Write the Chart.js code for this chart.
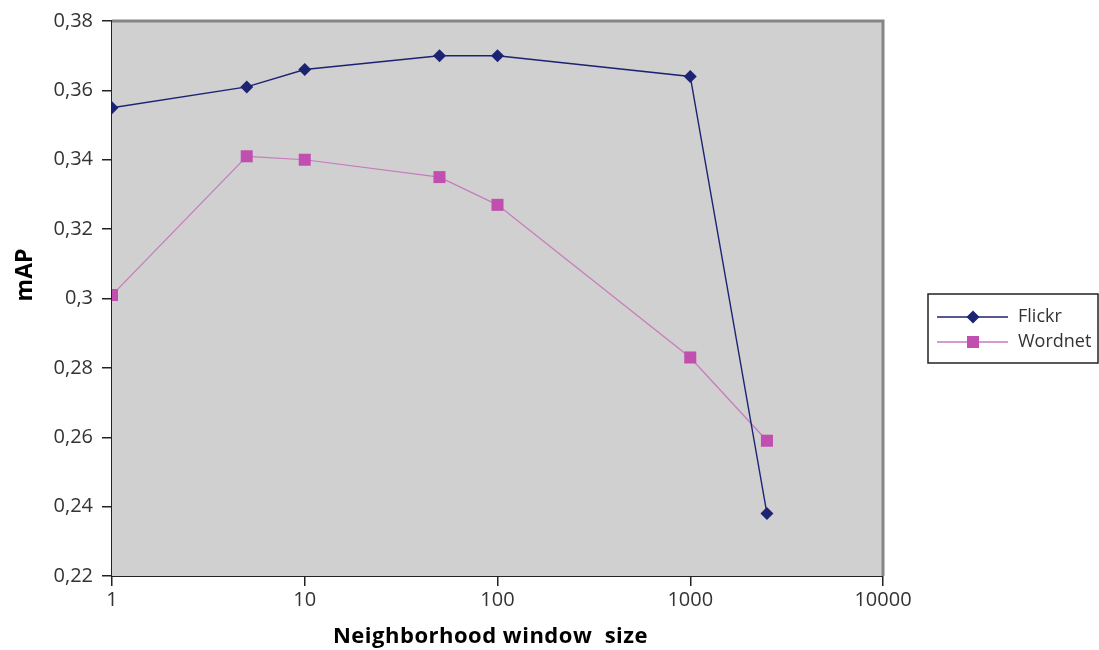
<!DOCTYPE html>
<html>
<head>
<meta charset="utf-8">
<script src="https://cdn.jsdelivr.net/npm/chart.js@4.4.1/dist/chart.umd.min.js"></script>
<style>
  html, body { margin: 0; padding: 0; background: #fff; }
  #wrap { width: 1099px; height: 650px; position: relative; }
</style>
</head>
<body>
<div id="wrap"><canvas id="mapChart" width="1099" height="650"></canvas></div>
<script>
// window sizes (x) and mAP values
const windowSizes = [1, 5, 10, 50, 100, 1000, 2500];
const flickrMap = [0.355, 0.361, 0.366, 0.370, 0.370, 0.364, 0.238];
const wordnetMap = [0.301, 0.341, 0.340, 0.335, 0.327, 0.283, 0.259];
const xTickValues = [1, 10, 100, 1000, 10000];
const yTickValues = [0.22, 0.24, 0.26, 0.28, 0.30, 0.32, 0.34, 0.36, 0.38];

const FLICKR_COLOR = "#1c2372";
const WORDNET_COLOR = "#c04fb0";
const WORDNET_LINE = "#c77abd";
const TICK_FONT = { family: "'Open Sans', sans-serif", size: 20 };

// gray plot background + the lighter top/right frame
const plotFrame = {
  id: "plotFrame",
  beforeDatasetsDraw(chart) {
    const { ctx, chartArea: { left, top, right, bottom } } = chart;
    ctx.save();
    ctx.fillStyle = "#d0d0d0";
    ctx.fillRect(left, top, right - left, bottom - top);
    ctx.restore();
  },
  afterDraw(chart) {
    const { ctx, chartArea: { left, top, right, bottom } } = chart;
    ctx.save();
    ctx.strokeStyle = "#858585";
    ctx.lineWidth = 3;
    ctx.beginPath();
    ctx.moveTo(left, top);
    ctx.lineTo(right, top);
    ctx.lineTo(right, bottom);
    ctx.stroke();
    ctx.restore();
  }
};

// axis titles, placed where the original has them
const axisTitles = {
  id: "axisTitles",
  afterDraw(chart) {
    const { ctx, chartArea } = chart;
    ctx.save();
    ctx.fillStyle = "#000";
    ctx.textAlign = "center";
    ctx.textBaseline = "alphabetic";
    ctx.font = "bold 22px 'Open Sans', sans-serif";
    ctx.letterSpacing = "0.5px";
    ctx.fillText("Neighborhood window  size", (chartArea.left + chartArea.right) / 2 - 7, 643);
    ctx.letterSpacing = "0px";
    ctx.translate(32, 275);
    ctx.rotate(-Math.PI / 2);
    ctx.font = "bold 23px 'Open Sans', sans-serif";
    ctx.fillText("mAP", 0, 0);
    ctx.restore();
  }
};

// boxed legend at the right, like the original spreadsheet chart
const boxLegend = {
  id: "boxLegend",
  afterDraw(chart) {
    const { ctx } = chart;
    const bx = 928, by = 294, bw = 170, bh = 69;
    ctx.save();
    ctx.fillStyle = "#fff";
    ctx.fillRect(bx, by, bw, bh);
    ctx.strokeStyle = "#222";
    ctx.lineWidth = 1.5;
    ctx.strokeRect(bx, by, bw, bh);
    const rows = [
      { label: "Flickr", line: FLICKR_COLOR, fill: FLICKR_COLOR, shape: "diamond", y: 317 },
      { label: "Wordnet", line: WORDNET_LINE, fill: WORDNET_COLOR, shape: "square", y: 342 }
    ];
    rows.forEach((r) => {
      ctx.strokeStyle = r.line;
      ctx.lineWidth = 1.3;
      ctx.beginPath();
      ctx.moveTo(937, r.y);
      ctx.lineTo(1008, r.y);
      ctx.stroke();
      ctx.fillStyle = r.fill;
      const cx = 973;
      ctx.beginPath();
      if (r.shape === "diamond") {
        ctx.moveTo(cx, r.y - 6.5);
        ctx.lineTo(cx + 6.5, r.y);
        ctx.lineTo(cx, r.y + 6.5);
        ctx.lineTo(cx - 6.5, r.y);
        ctx.closePath();
      } else {
        ctx.rect(cx - 6, r.y - 6, 12, 12);
      }
      ctx.fill();
      ctx.fillStyle = "#333";
      ctx.font = "18px 'Open Sans', sans-serif";
      ctx.textBaseline = "middle";
      ctx.fillText(r.label, 1018, r.y);
    });
    ctx.restore();
  }
};

const ctx = document.getElementById("mapChart").getContext("2d");

new Chart(ctx, {
  type: "line",
  data: {
    datasets: [
      {
        label: "Flickr",
        data: windowSizes.map((x, i) => ({ x, y: flickrMap[i] })),
        borderColor: FLICKR_COLOR,
        backgroundColor: FLICKR_COLOR,
        borderWidth: 1.4,
        pointStyle: "rectRot",
        pointRadius: 6.5,
        pointBorderWidth: 0,
        tension: 0
      },
      {
        label: "Wordnet",
        data: windowSizes.map((x, i) => ({ x, y: wordnetMap[i] })),
        borderColor: WORDNET_LINE,
        backgroundColor: WORDNET_COLOR,
        borderWidth: 1.2,
        pointStyle: "rect",
        pointRadius: 8.5,
        pointBorderWidth: 0,
        tension: 0
      }
    ]
  },
  options: {
    responsive: false,
    animation: false,
    layout: { padding: { left: 0, right: 216, top: 18, bottom: 0 } },
    plugins: {
      legend: { display: false },
      tooltip: { enabled: false }
    },
    scales: {
      x: {
        type: "logarithmic",
        min: 1,
        max: 10000,
        afterBuildTicks: (scale) => { scale.ticks = xTickValues.map((v) => ({ value: v })); },
        afterFit: (scale) => { scale.height = 74; },
        ticks: {
          color: "#333",
          font: TICK_FONT,
          padding: 2,
          maxRotation: 0,
          callback: (v) => String(v)
        },
        grid: { display: true, drawOnChartArea: false, drawTicks: true, tickLength: 10, color: "#222", lineWidth: 1.5 },
        border: { display: true, color: "#222", width: 2 }
      },
      y: {
        type: "linear",
        min: 0.22,
        max: 0.38,
        afterBuildTicks: (scale) => { scale.ticks = yTickValues.map((v) => ({ value: v })); },
        afterFit: (scale) => { scale.width = 112; },
        ticks: {
          color: "#333",
          font: TICK_FONT,
          padding: 9,
          callback: (v) => parseFloat(v.toFixed(2)).toString().replace(".", ",")
        },
        grid: { display: true, drawOnChartArea: false, drawTicks: true, tickLength: 10, color: "#222", lineWidth: 1.5 },
        border: { display: true, color: "#222", width: 2 }
      }
    }
  },
  plugins: [plotFrame, axisTitles, boxLegend]
});
</script>
</body>
</html>
